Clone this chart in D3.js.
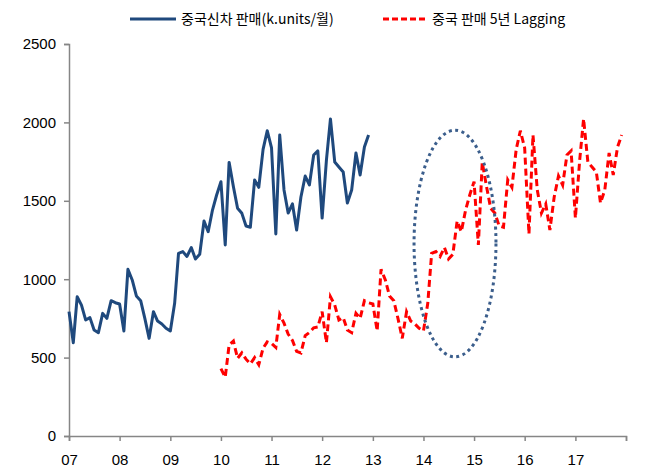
<!DOCTYPE html>
<html>
<head>
<meta charset="utf-8">
<script src="https://cdn.jsdelivr.net/npm/d3@7"></script>
<style>
  html, body { margin: 0; padding: 0; background: #fff; }
  svg { display: block; }
  text { font-family: "Liberation Sans Narrow", "Noto Sans CJK KR", sans-serif; fill: #000; }
</style>
</head>
<body>
<svg id="chart" width="647" height="471"></svg>
<script>
// ---- data ----
const seriesNames = ["중국신차 판매(k.units/월)", "중국 판매 5년 Lagging"];
const yearTickLabels = ["07","08","09","10","11","12","13","14","15","16","17"];
const yTicks = [0, 500, 1000, 1500, 2000, 2500];

const salesStart = "2007-01";   // first month of the new car sales series
const salesValues = [
  793, 595, 888, 835, 740, 755, 676, 659, 782, 750, 863, 850,
  842, 670, 1063, 995, 893, 863, 750, 623, 793, 733, 714, 687,
  670, 846, 1165, 1176, 1145, 1202, 1129, 1159, 1371, 1303, 1441, 1537,
  1622, 1218, 1745, 1590, 1452, 1420, 1339, 1331, 1633, 1586, 1828, 1947,
  1837, 1288, 1920, 1569, 1422, 1480, 1314, 1524, 1658, 1601, 1792, 1818,
  1390, 1760, 2022, 1747, 1716, 1684, 1486, 1569, 1805, 1665, 1843, 1920
];

const lagStart = "2010-01";     // 5-year lagged series (2005-2012 data plotted 2010-2017)
const lagValues = [
  430, 375, 580, 605, 495, 530, 490, 460, 500, 455, 560, 600,
  590, 565, 775, 720, 650, 610, 540, 530, 640, 660, 690, 695,
  793, 595, 888, 835, 740, 755, 676, 659, 782, 750, 863, 850,
  842, 670, 1063, 995, 893, 863, 750, 623, 793, 733, 714, 687,
  670, 846, 1165, 1176, 1145, 1202, 1129, 1159, 1371, 1303, 1441, 1537,
  1622, 1218, 1745, 1590, 1452, 1420, 1339, 1331, 1633, 1586, 1828, 1947,
  1837, 1288, 1920, 1569, 1422, 1480, 1314, 1524, 1658, 1601, 1792, 1818,
  1390, 1760, 2022, 1747, 1716, 1684, 1486, 1569, 1805, 1665, 1843, 1920
];

// highlighted region (dotted ellipse)
const highlightFrom = "2013-10-25", highlightTo = "2015-06-08";
const highlightLow = 505, highlightHigh = 1950;

// ---- chart ----
const svg = d3.select("#chart");
const parseMonth = d3.timeParse("%Y-%m");
const parseDay = d3.timeParse("%Y-%m-%d");

const x = d3.scaleTime()
  .domain([new Date(2007, 0, 1), new Date(2018, 0, 1)])
  .range([69, 626]);
const y = d3.scaleLinear().domain([0, 2500]).range([436, 44]);

const mk = (start, vals) => vals.map((v, i) => ({ d: d3.timeMonth.offset(parseMonth(start), i), v }));
const sales = mk(salesStart, salesValues);
const lag = mk(lagStart, lagValues);

const axisColor = "#868686";

// y axis
const yAxis = svg.append("g").attr("transform", `translate(${x.range()[0]},0)`)
  .call(d3.axisLeft(y).tickValues(yTicks).tickSize(5).tickPadding(8).tickFormat(d3.format("d")));
yAxis.select(".domain").attr("stroke", axisColor).attr("stroke-width", 1.5);
yAxis.selectAll(".tick line").attr("stroke", axisColor).attr("stroke-width", 1.5);
yAxis.selectAll("text").attr("font-size", 15).attr("fill", "#000")
  .style("font-family", '"Liberation Sans Narrow", sans-serif');

// x axis
const yearDates = d3.range(2007, 2019).map(yr => new Date(yr, 0, 1));
const xAxis = svg.append("g").attr("transform", `translate(0,${y(0)})`)
  .call(d3.axisBottom(x).tickValues(yearDates).tickSize(5).tickPadding(13)
    .tickFormat((d, i) => yearTickLabels[i] || ""));
xAxis.select(".domain").attr("stroke", axisColor).attr("stroke-width", 1.5);
xAxis.selectAll(".tick line").attr("stroke", axisColor).attr("stroke-width", 1.5);
xAxis.selectAll("text").attr("font-size", 15).attr("fill", "#000")
  .style("font-family", '"Liberation Sans Narrow", sans-serif');

const line = d3.line().x(p => x(p.d)).y(p => y(p.v));

svg.append("path").datum(lag)
  .attr("fill", "none").attr("stroke", "#ff0000").attr("stroke-width", 3)
  .attr("stroke-dasharray", "7,4").attr("d", line);

svg.append("path").datum(sales)
  .attr("fill", "none").attr("stroke", "#1f497d").attr("stroke-width", 3)
  .attr("stroke-linejoin", "round").attr("d", line);

// dotted ellipse annotation
const ex0 = x(parseDay(highlightFrom)), ex1 = x(parseDay(highlightTo));
const ey0 = y(highlightHigh), ey1 = y(highlightLow);
svg.append("ellipse")
  .attr("cx", (ex0 + ex1) / 2).attr("cy", (ey0 + ey1) / 2)
  .attr("rx", (ex1 - ex0) / 2).attr("ry", (ey1 - ey0) / 2)
  .attr("fill", "none").attr("stroke", "#3b5e8c").attr("stroke-width", 3)
  .attr("stroke-dasharray", "3,3.5");

// legend
const legend = svg.append("g");
const legendItems = [
  { name: seriesNames[0], color: "#1f497d", dash: null, x0: 130, x1: 176, tx: 181 },
  { name: seriesNames[1], color: "#ff0000", dash: "6,3", x0: 383, x1: 427, tx: 432 }
];
legendItems.forEach(it => {
  legend.append("line").attr("x1", it.x0).attr("x2", it.x1).attr("y1", 19).attr("y2", 19)
    .attr("stroke", it.color).attr("stroke-width", 3)
    .attr("stroke-dasharray", it.dash);
  legend.append("text").attr("x", it.tx).attr("y", 19).attr("dy", "0.35em")
    .attr("font-size", 14).text(it.name);
});
</script>
</body>
</html>
